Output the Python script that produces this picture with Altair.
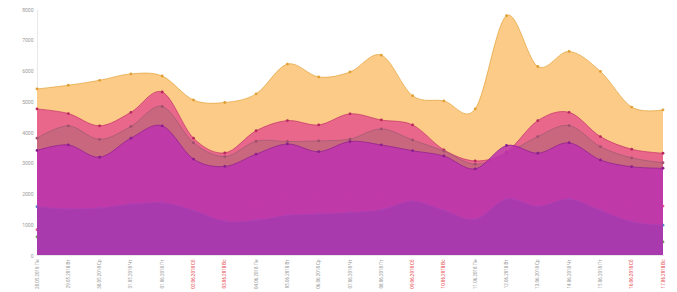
import altair as alt
import pandas as pd

dates = ["28.05.2018 Пн", "29.05.2018 Вт", "30.05.2018 Ср", "31.05.2018 Чт", "01.06.2018 Пт",
         "02.06.2018 Сб", "03.06.2018 Вс", "04.06.2018 Пн", "05.06.2018 Вт", "06.06.2018 Ср",
         "07.06.2018 Чт", "08.06.2018 Пт", "09.06.2018 Сб", "10.06.2018 Вс", "11.06.2018 Пн",
         "12.06.2018 Вт", "13.06.2018 Ср", "14.06.2018 Чт", "15.06.2018 Пт", "16.06.2018 Сб",
         "17.06.2018 Вс"]

s_yellow = [5400, 5520, 5680, 5890, 5820, 5040, 4960, 5240, 6210, 5790, 5950, 6500, 5180, 5010, 4750, 7780, 6130, 6620, 5970, 4810, 4720]
s_pink = [4750, 4600, 4200, 4640, 5300, 3800, 3320, 4040, 4370, 4230, 4590, 4390, 4230, 3420, 3060, 3350, 4370, 4640, 3850, 3440, 3310]
s_mauve = [3800, 4200, 3760, 4180, 4830, 3650, 3200, 3700, 3690, 3710, 3770, 4100, 3740, 3380, 2950, 3300, 3850, 4210, 3520, 3160, 3000]
s_magenta = [3400, 3580, 3180, 3800, 4200, 3120, 2880, 3280, 3610, 3360, 3690, 3580, 3390, 3220, 2800, 3560, 3310, 3650, 3090, 2870, 2820]
s_blue = [1570, 1500, 1530, 1650, 1700, 1450, 1100, 1130, 1290, 1330, 1380, 1470, 1750, 1450, 1160, 1820, 1580, 1820, 1450, 1080, 970]
s_rose = [820, 900, 1050, 1250, 1400, 1300, 1250, 1600, 2000, 2000, 1950, 1900, 1700, 1500, 1350, 1600, 1700, 1750, 1650, 1550, 1590]
s_green = [590, 620, 650, 700, 720, 650, 550, 560, 600, 620, 650, 680, 700, 620, 520, 650, 600, 620, 550, 470, 425]

# (values, fill, fill opacity, line colour, point colour) in drawing order
series = [
    (s_yellow, "#FBCB87", 1.0, "#E3A33A", "#E0A035"),
    (s_pink, "#E8678B", 1.0, "#C43569", "#B8285E"),
    (s_mauve, "#AA6872", 0.5, "#9E5A74", "#A0506E"),
    (s_rose, "#C9687F", 1.0, "#C9687F", "#E0608A"),
    (s_green, "#C9687F", 1.0, "#C9687F", "#6AA050"),
    (s_blue, "#2B6DA8", 1.0, "#4A90D0", "#4A90D0"),
    (s_magenta, "#BE31AF", 0.85, "#8B1F8F", "#8B1F8F"),
]

x_enc = alt.X("date:N", sort=dates,
              scale=alt.Scale(type="point", padding=0),
              axis=alt.Axis(title=None, labelAngle=-90, labelFontSize=4.5, labelFont="Roboto",
                            labelColor={"expr": "test(/Сб|Вс/, datum.label) ? '#E8474C' : '#9a9a9a'"},
                            ticks=False, domainColor="#e8e8e8", labelPadding=4, grid=False))
y_enc = alt.Y("v:Q", scale=alt.Scale(domain=[0, 8000]),
              axis=alt.Axis(title=None, values=list(range(0, 8001, 1000)), format="d",
                            labelFontSize=5, labelFont="Roboto", labelColor="#9a9a9a", ticks=False,
                            domainColor="#e8e8e8", labelPadding=4, grid=False))

layers = []
for vals, fill, op, lc, pc in series:
    df = pd.DataFrame({"date": dates, "v": vals})
    base = alt.Chart(df).encode(x=x_enc, y=y_enc)
    layers.append(base.mark_area(interpolate="cardinal", color=fill, opacity=op))
    layers.append(base.mark_line(interpolate="cardinal", color=lc, strokeWidth=0.8, opacity=0.9))
    layers.append(base.mark_point(filled=True, color=pc, size=8, opacity=1))

chart = alt.layer(*layers).properties(
    width=626, height=246,
    autosize=alt.AutoSizeParams(type="none"),
    padding={"left": 29, "top": 1, "right": 6, "bottom": 36},
).configure_view(stroke=None)

chart.save("out.html", embed_options={"renderer": "svg", "actions": False})
